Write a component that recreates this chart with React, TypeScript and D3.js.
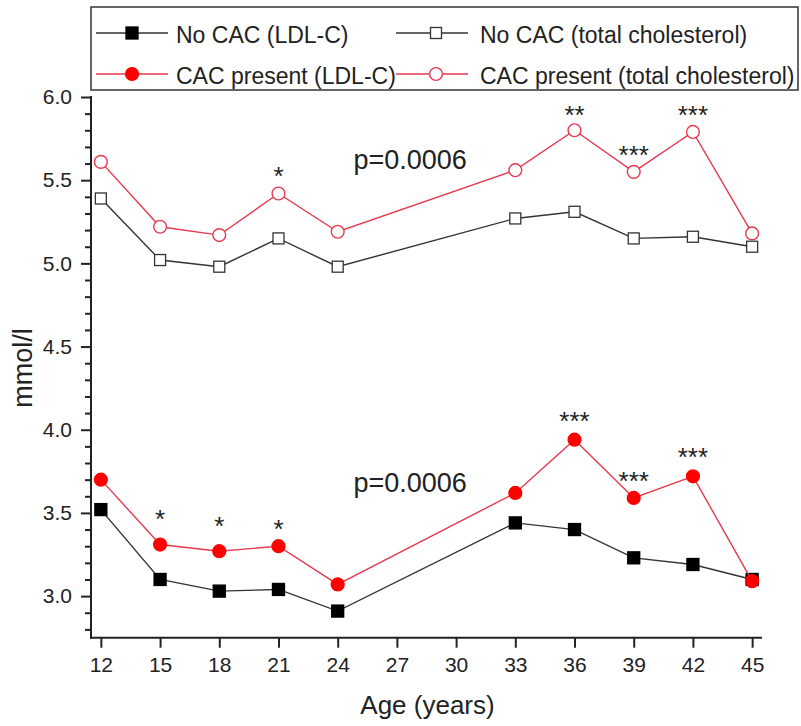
import React, { useEffect, useRef } from "react";
import * as d3 from "d3";

const ages = [12, 15, 18, 21, 24, 33, 36, 39, 42, 45];
const noCacLdl = [3.52, 3.1, 3.03, 3.04, 2.91, 3.44, 3.4, 3.23, 3.19, 3.1];
const cacLdl = [3.7, 3.31, 3.27, 3.3, 3.07, 3.62, 3.94, 3.59, 3.72, 3.09];
const noCacTotal = [5.39, 5.02, 4.98, 5.15, 4.98, 5.27, 5.31, 5.15, 5.16, 5.1];
const cacTotal = [5.61, 5.22, 5.17, 5.42, 5.19, 5.56, 5.8, 5.55, 5.79, 5.18];

const xTicks = [12, 15, 18, 21, 24, 27, 30, 33, 36, 39, 42, 45];
const yTicks = [3.0, 3.5, 4.0, 4.5, 5.0, 5.5, 6.0];

// significance stars, placed at (age, value)
const starAges = [21, 36, 39, 42, 15, 18, 21, 36, 39, 42];
const starValues = [5.56, 5.93, 5.69, 5.93, 3.5, 3.46, 3.44, 4.09, 3.73, 3.87];
const starLabels = ["*", "**", "***", "***", "*", "*", "*", "***", "***", "***"];

const pLabels = ["p=0.0006", "p=0.0006"];
const pAges = [24.8, 24.8];
const pValues = [5.567, 3.626];

const legendLabels = [
  "No CAC (LDL-C)",
  "No CAC (total cholesterol)",
  "CAC present (LDL-C)",
  "CAC present (total cholesterol)",
];

const FONT = "'Liberation Sans', Arial, Helvetica, sans-serif";
const BLACK_LINE = "#333";
const RED_LINE = "#e6394f";
const RED_FILL = "#ff0000";

const App = () => {
  const svgRef = useRef<SVGSVGElement>(null);

  useEffect(() => {
    const width = 801;
    const height = 726;
    const svg = d3.select(svgRef.current);
    svg.selectAll("*").remove();
    svg.attr("width", width).attr("height", height).style("font-family", FONT);

    const x = d3.scaleLinear().domain([11.5, 45.5]).range([91, 762]);
    const y = d3.scaleLinear().domain([2.75, 6.0]).range([637.7, 97]);

    // axes
    const minor = d3.range(28, 61).map((d) => d / 10).filter((d) => Math.round(d * 10) % 5 !== 0);

    const yAxis = svg.append("g").attr("transform", `translate(${x.range()[0]},0)`);
    yAxis
      .append("g")
      .call(d3.axisLeft(y).tickValues(minor).tickSize(6).tickSizeOuter(0).tickFormat(() => ""))
      .call((g) => g.select(".domain").remove());
    yAxis
      .append("g")
      .call(d3.axisLeft(y).tickValues(yTicks).tickSize(10).tickSizeOuter(0).tickPadding(9).tickFormat(d3.format(".1f")))
      .call((g) => g.select(".domain").remove());
    yAxis.selectAll(".tick line").attr("stroke", "#222").attr("stroke-width", 2);
    yAxis.selectAll("text").style("font-size", "21px").style("font-family", FONT).attr("fill", "#222");
    yAxis
      .append("line")
      .attr("x1", 0)
      .attr("x2", 0)
      .attr("y1", y(6.0) - 1)
      .attr("y2", y.range()[0] + 1)
      .attr("stroke", "#222")
      .attr("stroke-width", 2);

    const xAxis = svg.append("g").attr("transform", `translate(0,${y.range()[0]})`);
    xAxis
      .call(d3.axisBottom(x).tickValues(xTicks).tickSize(10).tickSizeOuter(0).tickPadding(9))
      .call((g) => g.select(".domain").remove());
    xAxis.selectAll(".tick line").attr("stroke", "#222").attr("stroke-width", 2);
    xAxis.selectAll("text").style("font-size", "21px").style("font-family", FONT).attr("fill", "#222");
    xAxis
      .append("line")
      .attr("x1", x.range()[0] - 1)
      .attr("x2", x.range()[1])
      .attr("y1", 0)
      .attr("y2", 0)
      .attr("stroke", "#222")
      .attr("stroke-width", 2);

    // axis titles
    svg
      .append("text")
      .attr("x", (x(11.5) + x(45.5)) / 2 + 1)
      .attr("y", 714)
      .attr("text-anchor", "middle")
      .style("font-size", "26px")
      .attr("fill", "#222")
      .text("Age (years)");
    svg
      .append("text")
      .attr("transform", "translate(32,368) rotate(-90)")
      .attr("text-anchor", "middle")
      .style("font-size", "27px")
      .attr("fill", "#222")
      .text("mmol/l");

    const line = d3
      .line<number>()
      .x((_, i) => x(ages[i]))
      .y((d) => y(d));

    const series = [
      { values: noCacTotal, stroke: BLACK_LINE, marker: "square", fill: "#fff", mstroke: BLACK_LINE },
      { values: noCacLdl, stroke: BLACK_LINE, marker: "square", fill: "#000", mstroke: "#000" },
      { values: cacTotal, stroke: RED_LINE, marker: "circle", fill: "#fff", mstroke: RED_LINE },
      { values: cacLdl, stroke: RED_LINE, marker: "circle", fill: RED_FILL, mstroke: RED_FILL },
    ];

    const drawMarker = (g: any, s: any, cx: number, cy: number) => {
      if (s.marker === "square") {
        const size = s.fill === "#000" ? 12 : 11;
        g.append("rect")
          .attr("x", cx - size / 2)
          .attr("y", cy - size / 2)
          .attr("width", size)
          .attr("height", size)
          .attr("fill", s.fill)
          .attr("stroke", s.mstroke)
          .attr("stroke-width", 1.3);
      } else {
        g.append("circle")
          .attr("cx", cx)
          .attr("cy", cy)
          .attr("r", 6.4)
          .attr("fill", s.fill)
          .attr("stroke", s.mstroke)
          .attr("stroke-width", 1.4);
      }
    };

    series.forEach((s) => {
      const g = svg.append("g");
      g.append("path")
        .datum(s.values)
        .attr("d", line)
        .attr("fill", "none")
        .attr("stroke", s.stroke)
        .attr("stroke-width", 1.4);
      s.values.forEach((v, i) => drawMarker(g, s, x(ages[i]), y(v)));
    });

    // stars
    svg
      .append("g")
      .selectAll("text")
      .data(starLabels)
      .join("text")
      .attr("x", (_, i) => x(starAges[i]))
      .attr("y", (_, i) => y(starValues[i]) + 15)
      .attr("text-anchor", "middle")
      .style("font-size", "26px")
      .attr("fill", "#222")
      .text((d) => d);

    // p values
    svg
      .append("g")
      .selectAll("text")
      .data(pLabels)
      .join("text")
      .attr("x", (_, i) => x(pAges[i]))
      .attr("y", (_, i) => y(pValues[i]))
      .style("font-size", "27px")
      .attr("fill", "#222")
      .text((d) => d);

    // legend
    const legend = svg.append("g");
    legend
      .append("rect")
      .attr("x", 91)
      .attr("y", 7)
      .attr("width", 707)
      .attr("height", 83)
      .attr("fill", "#fff")
      .attr("stroke", "#333")
      .attr("stroke-width", 1.5);

    const legendOrder = [1, 0, 3, 2]; // series index for each legend entry
    const cols = [96, 396];
    const rows = [33, 74];
    legendLabels.forEach((label, k) => {
      const s = series[legendOrder[k]];
      const x0 = cols[k % 2];
      const yy = rows[Math.floor(k / 2)];
      legend
        .append("line")
        .attr("x1", x0)
        .attr("x2", x0 + 72)
        .attr("y1", yy)
        .attr("y2", yy)
        .attr("stroke", s.stroke)
        .attr("stroke-width", 1.4);
      drawMarker(legend, s, x0 + 36 + (k % 2 === 1 ? 4 : 0), yy);
      legend
        .append("text")
        .attr("x", x0 + 80 + (k % 2 === 1 ? 4 : 0))
        .attr("y", yy + 10)
        .style("font-size", "23px")
        .attr("fill", "#222")
        .text(label);
    });
  }, []);

  return (
    <div style={{ position: "absolute", left: 0, top: 0, width: 801, height: 726 }}>
      <svg ref={svgRef} style={{ display: "block" }}></svg>
    </div>
  );
};

export default App;
